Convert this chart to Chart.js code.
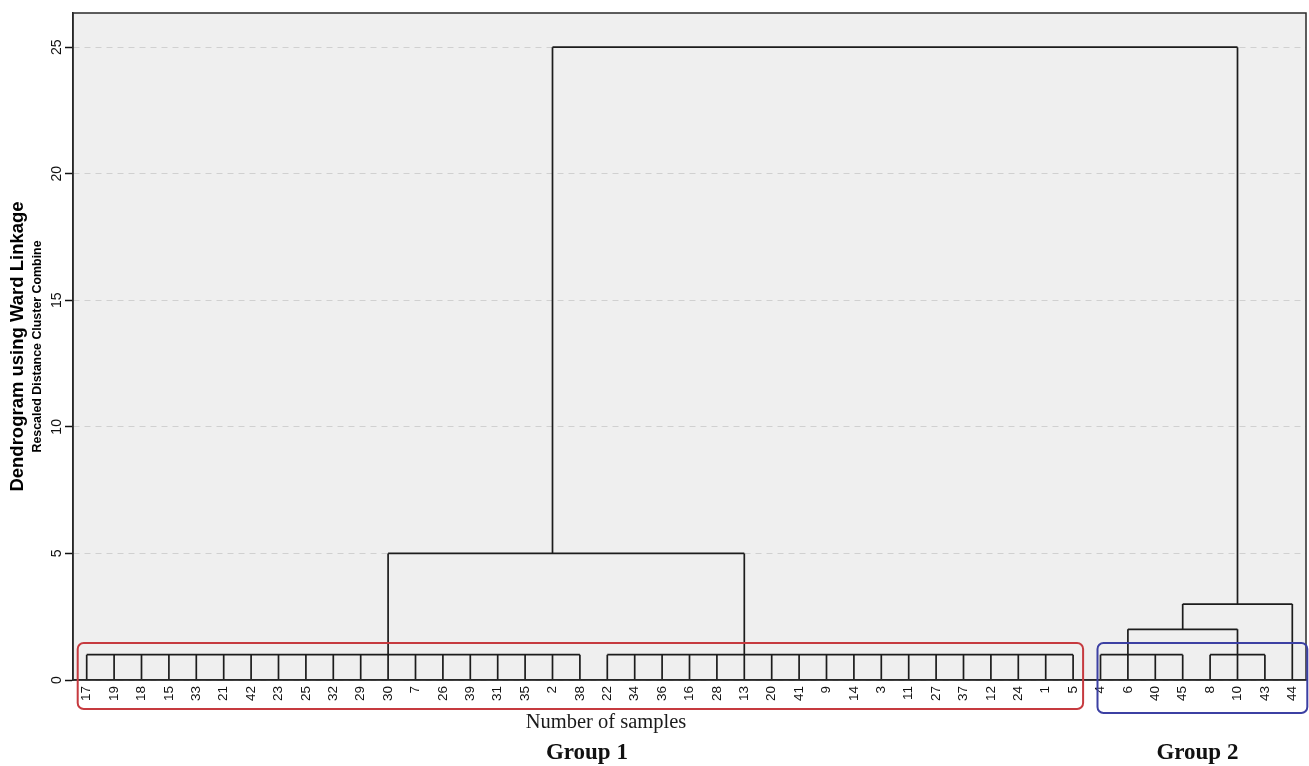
<!DOCTYPE html>
<html lang="en">
<head>
<meta charset="utf-8">
<title>Dendrogram using Ward Linkage</title>
<script src="https://cdn.jsdelivr.net/npm/chart.js@4.4.1/dist/chart.umd.min.js"></script>
<style>
  html, body { margin: 0; padding: 0; background: #fff; }
  #wrap { position: relative; width: 1309px; height: 766px; }
</style>
</head>
<body>
<div id="wrap"><canvas id="dendro"></canvas></div>
<script>
// Sample numbers in leaf order, left to right.
const leafLabels = [
  '17', '19', '18', '15', '33', '21', '42', '23', '25', '32', '29', '30', '7', '26', '39',
  '31', '35', '2', '38', '22', '34', '36', '16', '28', '13', '20', '41', '9', '14', '3',
  '11', '27', '37', '12', '24', '1', '5', '4', '6', '40', '45', '8', '10', '43', '44',
];

// Merge nodes. Height of the joining line, the leaf position where the node's
// stem rises to its parent, and its children (leaf positions as numbers,
// other nodes as 'n<index>').
const nodeHeights = [1, 1, 1, 1, 5, 2, 3, 25];
const nodeStems = [11, 24, 38, 42, 17, 40, 42, null];
const nodeChildren = [
  [0, 1, 2, 3, 4, 5, 6, 7, 8, 9, 10, 11, 12, 13, 14, 15, 16, 17, 18],
  [19, 20, 21, 22, 23, 24, 25, 26, 27, 28, 29, 30, 31, 32, 33, 34, 35, 36],
  [37, 38, 39, 40],
  [41, 42, 43],
  ['n0', 'n1'],
  ['n2', 'n3'],
  ['n5', 44],
  ['n4', 'n6'],
];

const yTicks = [0, 5, 10, 15, 20, 25];

const groupNames = ['Group 1', 'Group 2'];
const groupFirst = [0, 37];
const groupLast = [36, 44];
const groupColors = ['#c63a3f', '#3c40a3'];

// Where a child sits: a leaf starts at 0, a node at its own height.
function childAnchor(child) {
  if (typeof child === 'number') return { x: child, y: 0 };
  const i = Number(child.slice(1));
  return { x: nodeStems[i], y: nodeHeights[i] };
}

// One polyline with null breaks: the horizontal bar of each node plus the
// vertical stems of its children.
const segments = [];
nodeHeights.forEach((h, i) => {
  const kids = nodeChildren[i].map(childAnchor);
  const xs = kids.map((k) => k.x);
  const x0 = Math.min(...xs);
  const x1 = Math.max(...xs);
  segments.push({ x: x0, y: h }, { x: x1, y: h }, { x: x1, y: null });
  kids.forEach((k) => {
    segments.push({ x: k.x, y: k.y }, { x: k.x, y: h }, { x: k.x, y: null });
  });
});

const INK = '#1c1c1c';

const decorations = {
  id: 'decorations',
  beforeDraw(chart) {
    const { ctx, chartArea: a } = chart;
    ctx.save();
    ctx.fillStyle = '#efefef';
    ctx.fillRect(a.left, a.top, a.right - a.left, a.bottom - a.top);
    ctx.restore();
  },
  afterDraw(chart) {
    const { ctx, chartArea: a } = chart;
    const xs = chart.scales.x;
    const base = chart.scales.y.getPixelForValue(0);

    ctx.save();
    // plot frame
    ctx.strokeStyle = '#2a2a2a';
    ctx.lineWidth = 1.5;
    ctx.strokeRect(a.left, a.top, a.right - a.left, a.bottom - a.top);

    // group boxes around the leaf labels: left pad, right pad, bottom pad, label shift
    const pads = [[9, 10, 29, 7], [3, 15, 33, 1]];
    ctx.lineWidth = 2;
    groupNames.forEach((name, g) => {
      const left = xs.getPixelForValue(groupFirst[g]) - pads[g][0];
      const right = xs.getPixelForValue(groupLast[g]) + pads[g][1];
      const top = base - 37;
      const bottom = base + pads[g][2];
      ctx.strokeStyle = groupColors[g];
      ctx.beginPath();
      ctx.roundRect(left, top, right - left, bottom - top, 6);
      ctx.stroke();

      const mid = (xs.getPixelForValue(groupFirst[g]) + xs.getPixelForValue(groupLast[g])) / 2;
      ctx.fillStyle = '#111';
      ctx.font = 'bold 23px "Liberation Serif", serif';
      ctx.textAlign = 'center';
      ctx.textBaseline = 'alphabetic';
      ctx.fillText(name, mid + pads[g][3], 759);
    });

    ctx.fillStyle = '#1a1a1a';
    ctx.font = '20.5px "Liberation Serif", serif';
    ctx.textAlign = 'center';
    ctx.fillText('Number of samples', 606, 728);

    // y axis title, two lines reading bottom to top
    const cy = (a.top + a.bottom) / 2;
    ctx.fillStyle = '#000';
    ctx.textBaseline = 'middle';
    ctx.translate(18, cy);
    ctx.rotate(-Math.PI / 2);
    ctx.font = 'bold 18.5px "Liberation Sans", Arial, sans-serif';
    ctx.fillText('Dendrogram using Ward Linkage', 0, 0);
    ctx.font = 'bold 12.4px "Liberation Sans", Arial, sans-serif';
    ctx.fillText('Rescaled Distance Cluster Combine', 0, 19.5);
    ctx.restore();
  },
};

new Chart(document.getElementById('dendro'), {
  type: 'line',
  data: {
    datasets: [
      {
        data: segments,
        borderColor: INK,
        borderWidth: 1.7,
        pointRadius: 0,
        tension: 0,
        spanGaps: false,
      },
    ],
  },
  options: {
    responsive: true,
    maintainAspectRatio: false,
    animation: false,
    layout: { padding: { top: 13, right: 3, left: 0, bottom: 0 } },
    plugins: {
      legend: { display: false },
      tooltip: { enabled: false },
    },
    scales: {
      x: {
        type: 'linear',
        min: -0.5,
        max: 44.5,
        afterBuildTicks: (scale) => {
          scale.ticks = leafLabels.map((_, i) => ({ value: i }));
        },
        afterFit: (scale) => {
          scale.height = 86;
          // rotated labels need no extra room at the ends
          scale.paddingLeft = 0;
          scale.paddingRight = 0;
        },
        grid: { display: false },
        border: { color: '#222', width: 1.5 },
        ticks: {
          autoSkip: false,
          minRotation: 90,
          maxRotation: 90,
          padding: -2,
          color: '#111',
          font: { family: '"Liberation Sans", Arial, sans-serif', size: 13.5 },
          callback: (value) => leafLabels[value],
        },
      },
      y: {
        min: 0,
        max: 26.35,
        afterBuildTicks: (scale) => {
          scale.ticks = yTicks.map((v) => ({ value: v }));
        },
        afterFit: (scale) => {
          scale.width = 73;
        },
        grid: {
          color: '#d0d0d0',
          lineWidth: 1,
          tickColor: '#111',
          tickLength: 8,
          tickWidth: 1.5,
        },
        border: { color: '#222', width: 1.5, dash: [6, 5] },
        ticks: {
          minRotation: 90,
          maxRotation: 90,
          crossAlign: 'center',
          padding: 0,
          color: '#111',
          font: { family: '"Liberation Sans", Arial, sans-serif', size: 14 },
        },
      },
    },
  },
  plugins: [decorations],
});
</script>
</body>
</html>
